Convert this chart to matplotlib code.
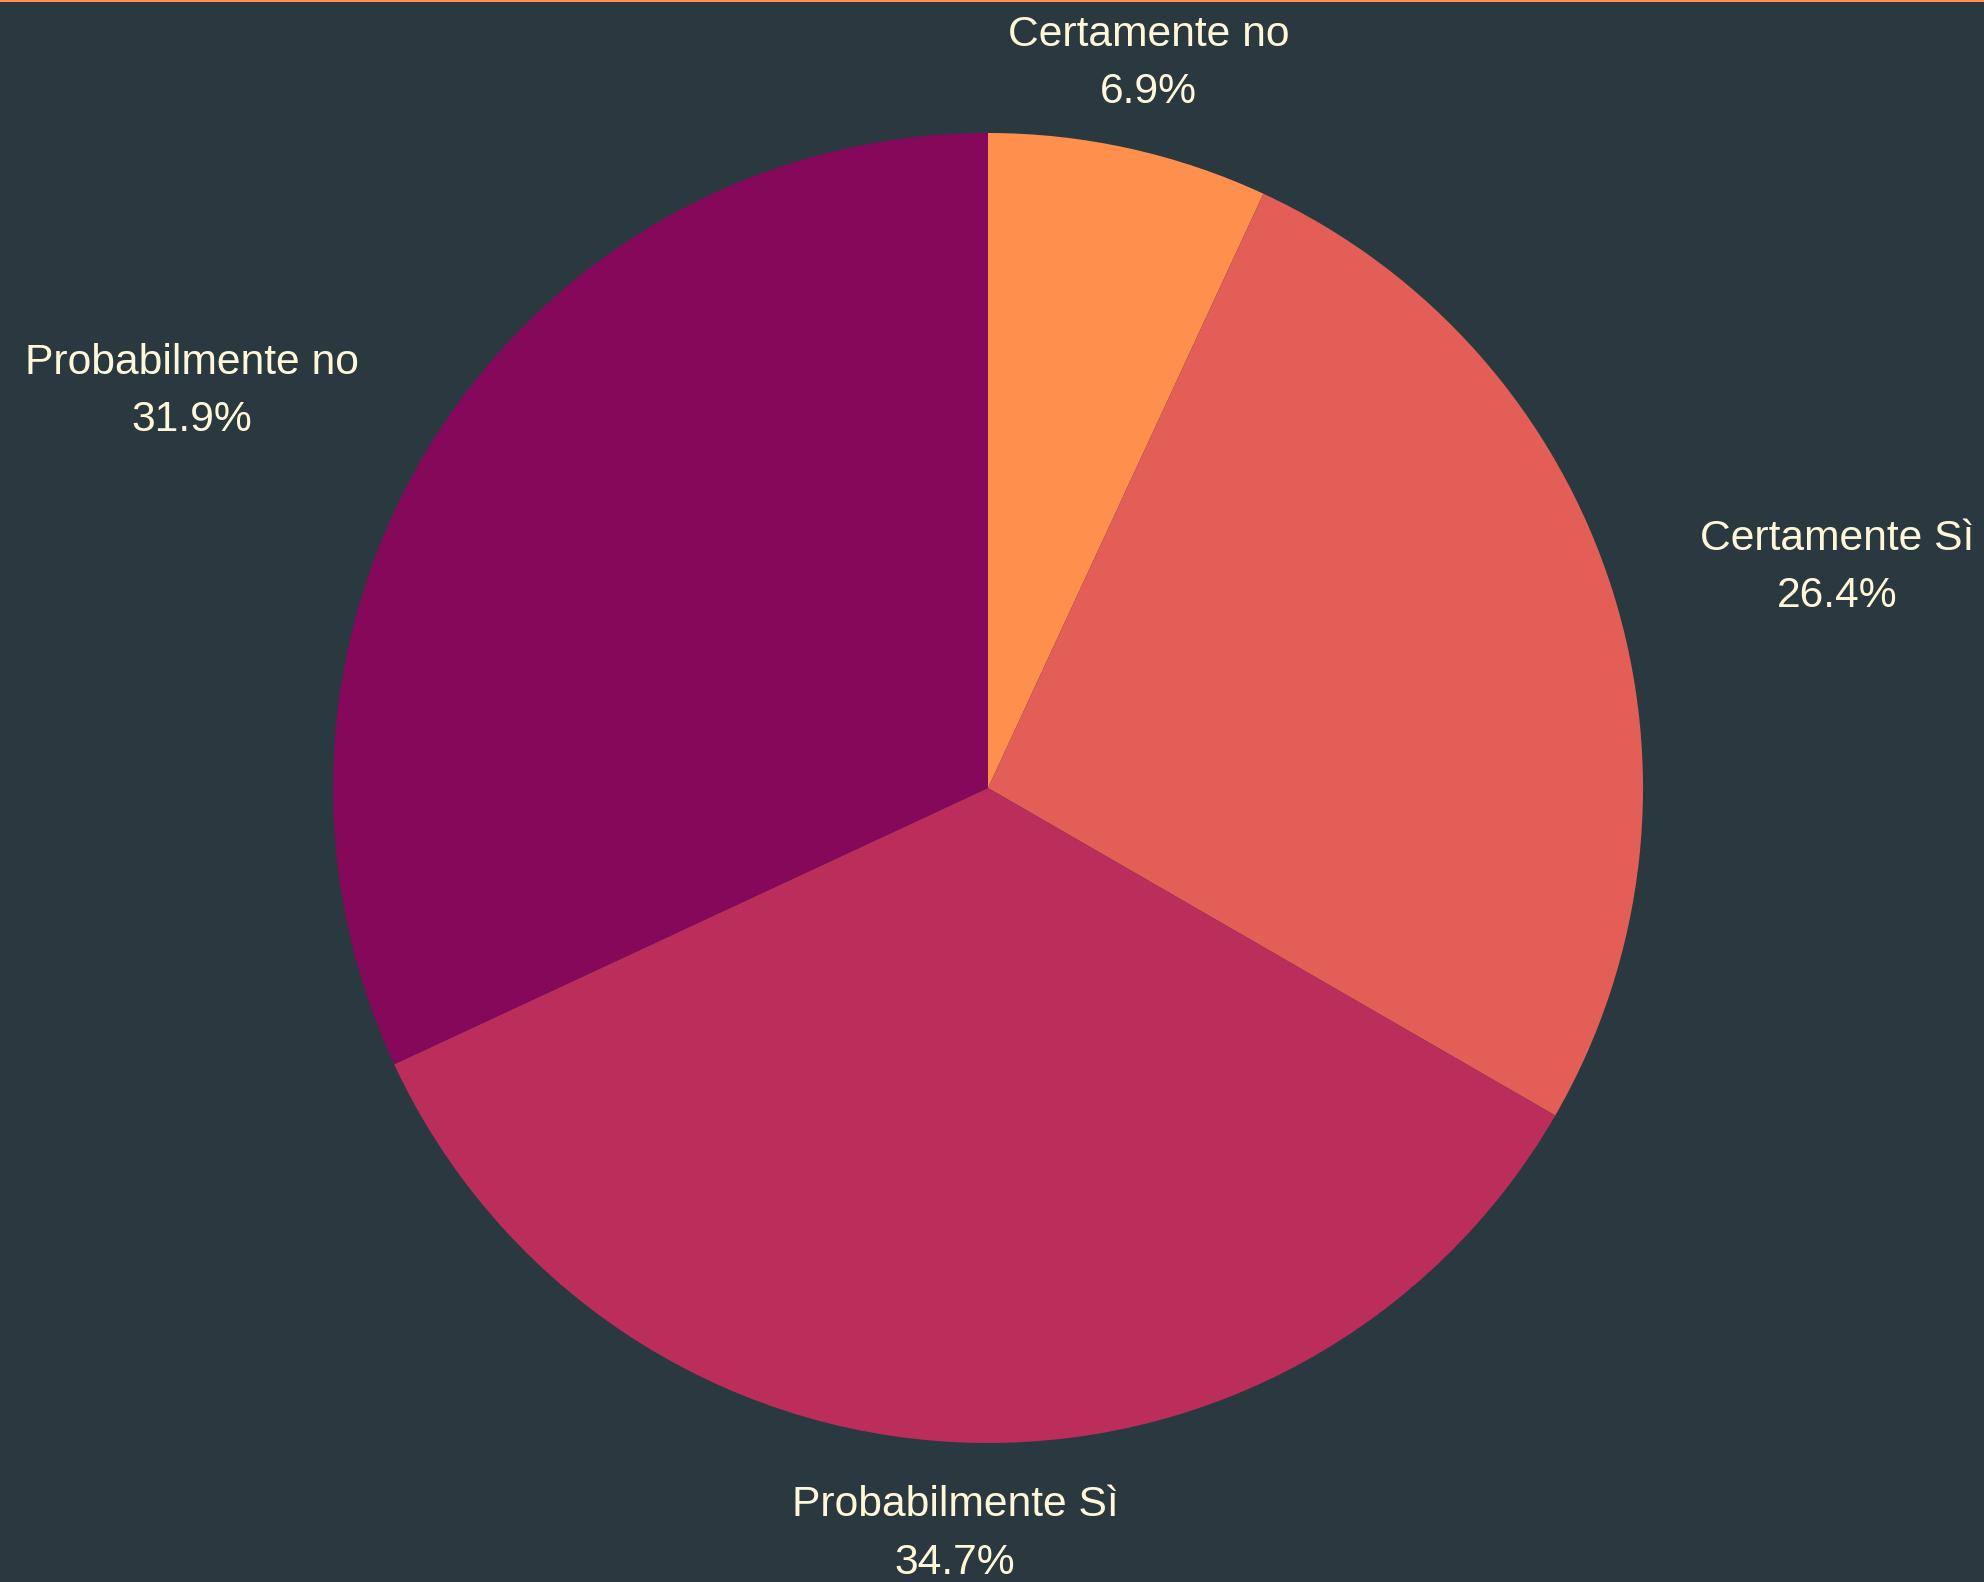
import matplotlib
matplotlib.use("Agg")
from matplotlib import pyplot as plt
from matplotlib.patches import Rectangle
import numpy as np

categories = ['Certamente no', 'Certamente Sì', 'Probabilmente Sì', 'Probabilmente no']
shares = [6.9, 26.4, 34.7, 31.9]
colors = ['#FF8F4C', '#E35E57', '#BB2E5B', '#85085A']

bg = '#2A3840'
txt = '#FFF7D9'

plt.rcParams['font.family'] = ['Liberation Sans', 'DejaVu Sans']

W, H = 1984, 1582
fig = plt.figure(figsize=(W / 100, H / 100), dpi=100, facecolor=bg)
ax = fig.add_axes([0, 0, 1, 1])
ax.set_facecolor(bg)

cx, cy, r = 988, H - 788, 655
labels = [f'{c}\n{s:.1f}%' for c, s in zip(categories, shares)]
wedges, texts = ax.pie(shares, labels=labels, colors=colors, startangle=90,
                       counterclock=False, center=(cx, cy), radius=r,
                       labeldistance=1.14,
                       textprops=dict(color=txt, fontsize=30.7, linespacing=1.56))
# pie picks the side from the absolute x, so set it again relative to centre
for t in texts:
    x, y = t.get_position()
    dx = x - cx
    if abs(dx) < 0.3 * r:
        t.set_horizontalalignment('center')
    elif dx > 0:
        t.set_horizontalalignment('left')
    else:
        t.set_horizontalalignment('right')
    t.set_multialignment('center')
    if y > cy:
        t.set_y(y - 5)

ax.set_xlim(0, W)
ax.set_ylim(0, H)
ax.set_aspect('equal')
ax.axis('off')

# thin orange strip along the top edge
fig.add_artist(Rectangle((0, 1 - 2 / H), 1, 2 / H, transform=fig.transFigure,
                         color='#FF8F4C', lw=0))

fig.savefig('out.png', dpi=100, facecolor=bg)
